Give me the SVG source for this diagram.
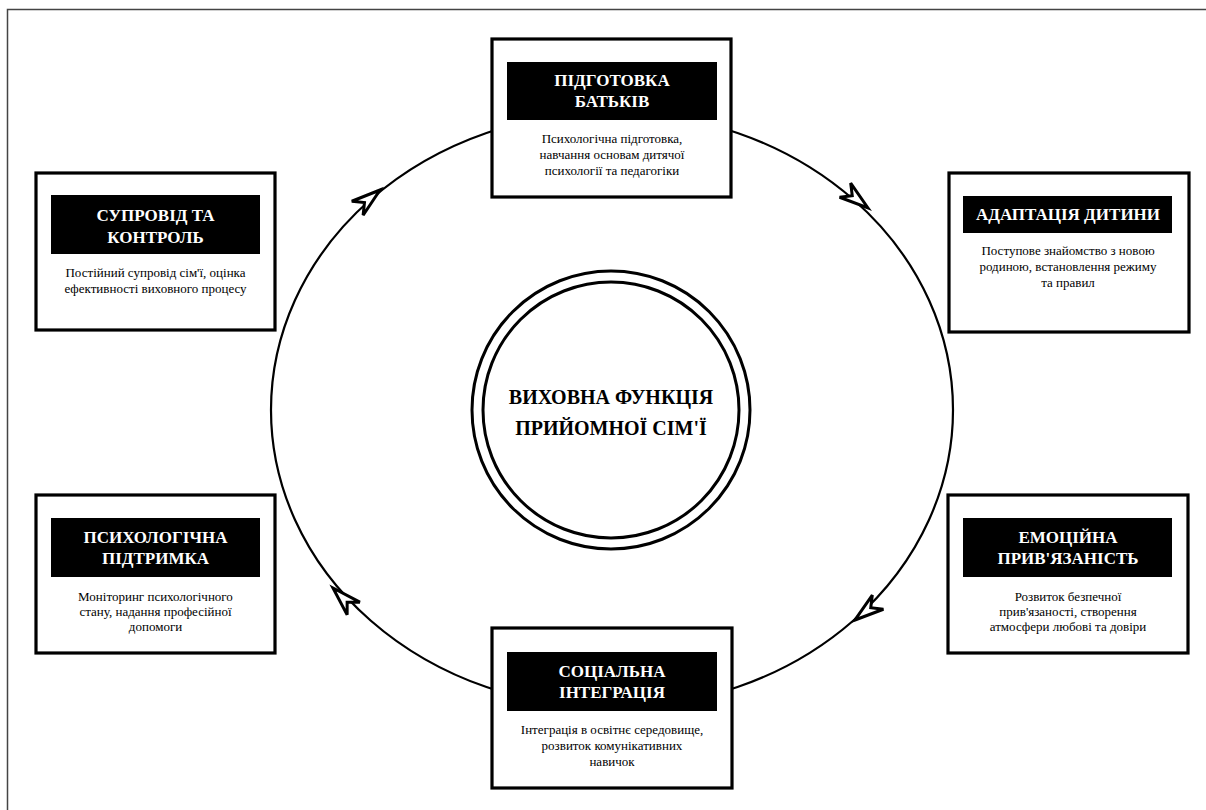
<svg xmlns="http://www.w3.org/2000/svg" width="1206" height="810" viewBox="0 0 1206 810">
<style>
.frame{fill:none;stroke:#444;stroke-width:1.5}
.box{fill:#fff;stroke:#000;stroke-width:3.2}
.hdr{fill:#000}
.ht{font-family:"Liberation Serif","Times New Roman","DejaVu Serif",serif;font-weight:bold;font-size:17px;fill:#fff;text-anchor:middle}
.dt{font-family:"Liberation Serif","Times New Roman","DejaVu Serif",serif;font-size:13px;fill:#000;text-anchor:middle}
.ring{fill:none;stroke:#000;stroke-width:3}
.ct{font-family:"Liberation Serif","Times New Roman","DejaVu Serif",serif;font-weight:bold;font-size:20px;fill:#000;text-anchor:middle}
.cyc{fill:none;stroke:#000;stroke-width:2.2}
.ah{fill:#fff;stroke:#000;stroke-width:3;stroke-linejoin:miter}
</style>
<defs>
<path id="arrowhead" class="ah" d="M0,0 L-29,-9 L-20,0 L-29,9 Z"/>
</defs>
<rect width="1206" height="810" fill="#fff"/>
<rect class="frame" x="7.5" y="9.5" width="1230" height="840"/>
<g id="connectors">
<ellipse class="cyc" cx="612" cy="410" rx="341" ry="298"/>
<use href="#arrowhead" transform="translate(380,190) rotate(-39)"/>
<use href="#arrowhead" transform="translate(868,208) rotate(38)"/>
<use href="#arrowhead" transform="translate(855,620) rotate(142)"/>
<use href="#arrowhead" transform="translate(333,588) rotate(-135)"/>
</g>
<g id="center">
<circle class="ring" cx="611" cy="410" r="139"/>
<circle class="ring" cx="611" cy="410" r="128"/>
<text class="ct" x="611" y="404">ВИХОВНА ФУНКЦІЯ</text>
<text class="ct" x="611" y="435">ПРИЙОМНОЇ СІМ'Ї</text>
</g>
<g id="node-prep">
<rect class="box" x="492" y="39" width="239" height="158"/>
<rect class="hdr" x="507" y="62" width="210" height="58"/>
<text class="ht" x="612" y="86">ПІДГОТОВКА</text>
<text class="ht" x="612" y="107">БАТЬКІВ</text>
<text class="dt" x="612" y="143">Психологічна підготовка,</text>
<text class="dt" x="612" y="159">навчання основам дитячої</text>
<text class="dt" x="612" y="175">психології та педагогіки</text>
</g>
<g id="node-adapt">
<rect class="box" x="949" y="173" width="240" height="159"/>
<rect class="hdr" x="963" y="196" width="209" height="37"/>
<text class="ht" x="1068" y="220">АДАПТАЦІЯ ДИТИНИ</text>
<text class="dt" x="1068" y="255">Поступове знайомство з новою</text>
<text class="dt" x="1068" y="271">родиною, встановлення режиму</text>
<text class="dt" x="1068" y="287">та правил</text>
</g>
<g id="node-support">
<rect class="box" x="36" y="173" width="239" height="157"/>
<rect class="hdr" x="51" y="195" width="209" height="59"/>
<text class="ht" x="155.5" y="221">СУПРОВІД ТА</text>
<text class="ht" x="155.5" y="243">КОНТРОЛЬ</text>
<text class="dt" x="155.5" y="277">Постійний супровід сім'ї, оцінка</text>
<text class="dt" x="155.5" y="293">ефективності виховного процесу</text>
</g>
<g id="node-psych">
<rect class="box" x="36" y="495" width="239" height="158"/>
<rect class="hdr" x="51" y="518" width="209" height="59"/>
<text class="ht" x="155.5" y="543">ПСИХОЛОГІЧНА</text>
<text class="ht" x="155.5" y="564">ПІДТРИМКА</text>
<text class="dt" x="155.5" y="601">Моніторинг психологічного</text>
<text class="dt" x="155.5" y="616">стану, надання професійної</text>
<text class="dt" x="155.5" y="631">допомоги</text>
</g>
<g id="node-emotion">
<rect class="box" x="948" y="495" width="240" height="158"/>
<rect class="hdr" x="963" y="518" width="209" height="59"/>
<text class="ht" x="1068" y="543">ЕМОЦІЙНА</text>
<text class="ht" x="1068" y="564">ПРИВ'ЯЗАНІСТЬ</text>
<text class="dt" x="1068" y="601">Розвиток безпечної</text>
<text class="dt" x="1068" y="616">прив'язаності, створення</text>
<text class="dt" x="1068" y="631">атмосфери любові та довіри</text>
</g>
<g id="node-social">
<rect class="box" x="492" y="628" width="240" height="160"/>
<rect class="hdr" x="507" y="652" width="210" height="59"/>
<text class="ht" x="612" y="677">СОЦІАЛЬНА</text>
<text class="ht" x="612" y="698">ІНТЕГРАЦІЯ</text>
<text class="dt" x="612" y="734">Інтеграція в освітнє середовище,</text>
<text class="dt" x="612" y="750">розвиток комунікативних</text>
<text class="dt" x="612" y="766">навичок</text>
</g>
</svg>
